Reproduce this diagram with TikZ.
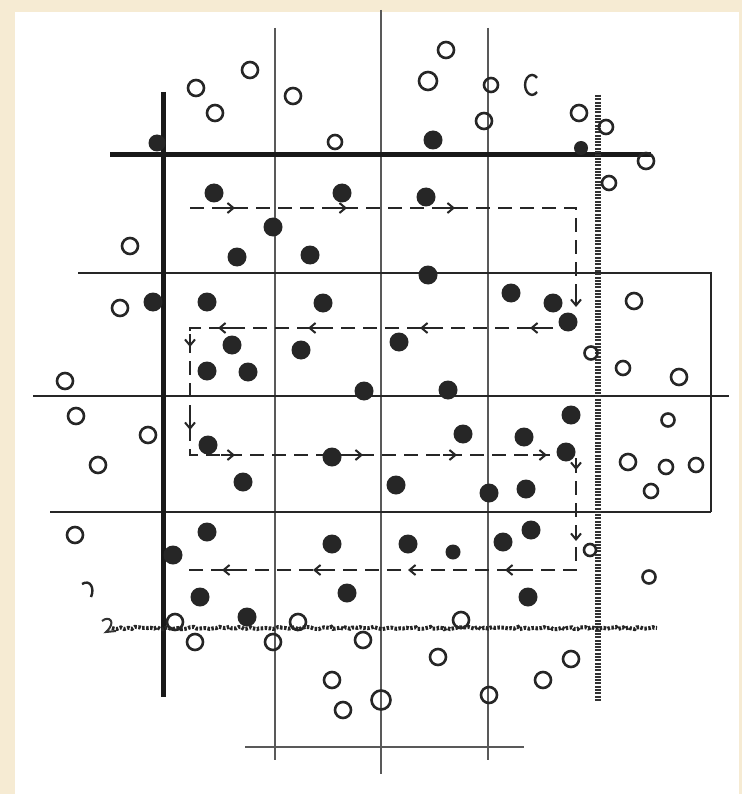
\documentclass[tikz,border=0pt]{standalone}
\usepackage{tikz}
\usetikzlibrary{arrows.meta,decorations.pathmorphing}
\pgfdeclarelayer{background}
\pgfsetlayers{background,main}
\definecolor{paper}{HTML}{F6EBD3}

\begin{document}
\begin{tikzpicture}[x=1pt,y=-1pt,
  full/.style={circle,fill=black!85,inner sep=0pt,minimum size=19pt},
  hollow/.style={circle,draw=black!85,line width=2.6pt,inner sep=0pt,minimum size=16pt},
  heavyline/.style={line width=5pt,black!90},
  midline/.style={line width=2.6pt,black!85},
  gridline/.style={line width=1.8pt,black!65},
  hatchline/.style={line width=6.5pt,black!80,dash pattern=on 2pt off 1.3pt},
  wiggle/.style={line width=4pt,black!85,dash pattern=on 2.5pt off 1.5pt,
    decorate,decoration={random steps,segment length=3pt,amplitude=1.2pt}},
  route/.style={line width=2pt,black!85,dash pattern=on 14pt off 8pt},
  tip/.style={line width=2pt,black!85,-{Straight Barb[length=6pt,width=10pt]}}]
\useasboundingbox (0,0) rectangle (742,794);
\begin{pgfonlayer}{background}
\fill[paper] (0,0) rectangle (742,794);
\fill[white] (15,12) rectangle (739,794);
\end{pgfonlayer}

% grid lines
\draw[gridline] (275,28) -- (275,760);
\draw[gridline] (381,10) -- (381,774);
\draw[gridline] (488,28) -- (488,760);
\draw[midline] (78,273) -- (711,273) -- (711,512);
\draw[midline] (33,396) -- (729,396);
\draw[midline] (50,512) -- (711,512);
\draw[gridline] (245,747) -- (524,747);
\draw[heavyline] (163,92) -- (163,697);
\draw[heavyline] (110,155) -- (651,155);

% hatched borders
\draw[hatchline] (598,95) -- (598,702);
\draw[wiggle] (112,628) -- (657,628);
\draw[line width=2pt,black!80] (102,621) .. controls (109,615) and (117,622) .. (106,632) -- (116,631);

% the walk
\draw[route] (190,208) -- (576,208) -- (576,300);
\draw[route] (575,328) -- (190,328) -- (190,455) -- (576,455) -- (576,570) -- (188,570);
\draw[tip] (221,208) -- (235,208);
\draw[tip] (333,208) -- (347,208);
\draw[tip] (441,208) -- (455,208);
\draw[tip] (576,293) -- (576,307);
\draw[tip] (544,328) -- (530,328);
\draw[tip] (434,328) -- (420,328);
\draw[tip] (322,328) -- (308,328);
\draw[tip] (232,328) -- (218,328);
\draw[tip] (190,334) -- (190,347);
\draw[tip] (190,416) -- (190,430);
\draw[tip] (221,455) -- (235,455);
\draw[tip] (349,455) -- (363,455);
\draw[tip] (443,455) -- (457,455);
\draw[tip] (533,455) -- (547,455);
\draw[tip] (576,458) -- (576,470);
\draw[tip] (576,527) -- (576,541);
\draw[tip] (519,570) -- (505,570);
\draw[tip] (422,570) -- (408,570);
\draw[tip] (327,570) -- (313,570);
\draw[tip] (236,570) -- (222,570);

% sampled units
\node[full,minimum size=17pt] (s1) at (157,143) {};
\node[full] (s2) at (433,140) {};
\node[full,minimum size=14pt] (s3) at (581,148) {};
\node[full] (s4) at (214,193) {};
\node[full] (s5) at (342,193) {};
\node[full] (s6) at (426,197) {};
\node[full] (s7) at (273,227) {};
\node[full] (s8) at (237,257) {};
\node[full] (s9) at (310,255) {};
\node[full] (s10) at (428,275) {};
\node[full] (s11) at (153,302) {};
\node[full] (s12) at (207,302) {};
\node[full] (s13) at (323,303) {};
\node[full] (s14) at (511,293) {};
\node[full] (s15) at (553,303) {};
\node[full] (s16) at (568,322) {};
\node[full] (s17) at (232,345) {};
\node[full] (s18) at (301,350) {};
\node[full] (s19) at (399,342) {};
\node[full] (s20) at (207,371) {};
\node[full] (s21) at (248,372) {};
\node[full] (s22) at (364,391) {};
\node[full] (s23) at (448,390) {};
\node[full] (s24) at (571,415) {};
\node[full] (s25) at (463,434) {};
\node[full] (s26) at (524,437) {};
\node[full] (s27) at (208,445) {};
\node[full] (s28) at (332,457) {};
\node[full] (s29) at (566,452) {};
\node[full] (s30) at (243,482) {};
\node[full] (s31) at (396,485) {};
\node[full] (s32) at (489,493) {};
\node[full] (s33) at (526,489) {};
\node[full] (s34) at (207,532) {};
\node[full] (s35) at (173,555) {};
\node[full] (s36) at (332,544) {};
\node[full] (s37) at (408,544) {};
\node[full,minimum size=15pt] (s38) at (453,552) {};
\node[full] (s39) at (503,542) {};
\node[full] (s40) at (531,530) {};
\node[full] (s41) at (200,597) {};
\node[full] (s42) at (347,593) {};
\node[full] (s43) at (247,617) {};
\node[full] (s44) at (528,597) {};

% other units
\node[hollow] (u1) at (196,88) {};
\node[hollow] (u2) at (250,70) {};
\node[hollow] (u3) at (215,113) {};
\node[hollow] (u4) at (293,96) {};
\node[hollow,minimum size=14pt] (u5) at (335,142) {};
\node[hollow] (u6) at (446,50) {};
\node[hollow,minimum size=18pt] (u7) at (428,81) {};
\node[hollow,minimum size=14pt] (u8) at (491,85) {};
\node[hollow] (u9) at (484,121) {};
\node[hollow] (u10) at (579,113) {};
\node[hollow,minimum size=14pt] (u11) at (606,127) {};
\node[hollow] (u12) at (646,161) {};
\node[hollow,minimum size=14pt] (u13) at (609,183) {};
\node[hollow] (u14) at (130,246) {};
\node[hollow] (u15) at (120,308) {};
\node[hollow] (u16) at (65,381) {};
\node[hollow] (u17) at (634,301) {};
\node[hollow,minimum size=13pt] (u18) at (591,353) {};
\node[hollow,minimum size=14pt] (u19) at (623,368) {};
\node[hollow] (u20) at (679,377) {};
\node[hollow] (u21) at (76,416) {};
\node[hollow] (u22) at (148,435) {};
\node[hollow] (u23) at (98,465) {};
\node[hollow] (u24) at (75,535) {};
\node[hollow,minimum size=13pt] (u25) at (668,420) {};
\node[hollow] (u26) at (628,462) {};
\node[hollow,minimum size=14pt] (u27) at (666,467) {};
\node[hollow,minimum size=14pt] (u28) at (696,465) {};
\node[hollow,minimum size=14pt] (u29) at (651,491) {};
\node[hollow,minimum size=12pt] (u30) at (590,550) {};
\node[hollow,minimum size=13pt] (u31) at (649,577) {};
\node[hollow] (u32) at (175,622) {};
\node[hollow] (u33) at (195,642) {};
\node[hollow] (u34) at (273,642) {};
\node[hollow] (u35) at (298,622) {};
\node[hollow] (u36) at (363,640) {};
\node[hollow] (u37) at (461,620) {};
\node[hollow] (u38) at (438,657) {};
\node[hollow] (u39) at (571,659) {};
\node[hollow] (u40) at (543,680) {};
\node[hollow] (u41) at (489,695) {};
\node[hollow,minimum size=19pt] (u42) at (381,700) {};
\node[hollow] (u43) at (332,680) {};
\node[hollow] (u44) at (343,710) {};
\draw[line width=2.4pt,black!85] (537,92) arc[start angle=45,end angle=315,x radius=7,y radius=10];
\draw[line width=2.4pt,black!85] (82,584) .. controls (90,579) and (95,588) .. (91,597);

\end{tikzpicture}
\end{document}
